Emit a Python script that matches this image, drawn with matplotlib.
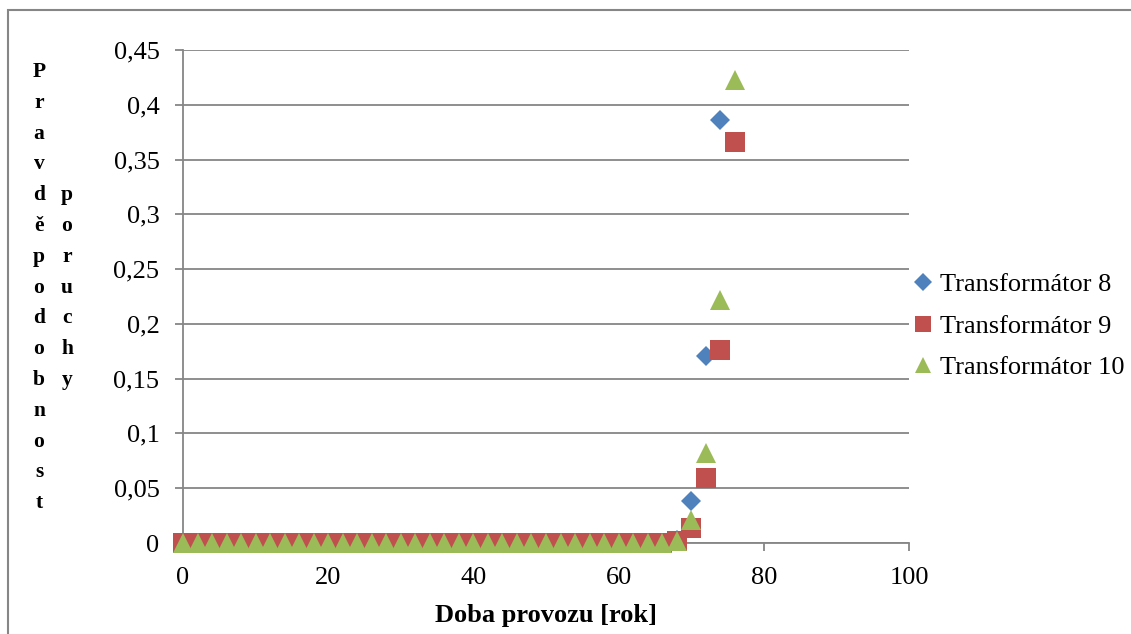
import matplotlib
matplotlib.use("Agg")
import matplotlib.pyplot as plt
from matplotlib.patches import Rectangle

plt.rcParams['font.family'] = ['Liberation Serif', 'DejaVu Serif']

years_8 = [0, 2, 4, 6, 8, 10, 12, 14, 16, 18, 20, 22, 24, 26, 28, 30, 32, 34, 36,
           38, 40, 42, 44, 46, 48, 50, 52, 54, 56, 58, 60, 62, 64, 66, 68, 70, 72, 74]
t8 = [0, 0, 0, 0, 0, 0, 0, 0, 0, 0, 0, 0, 0, 0, 0, 0, 0, 0, 0,
      0, 0, 0, 0, 0, 0, 0, 0, 0, 0, 0, 0, 0, 0, 0, 0.003, 0.038, 0.171, 0.386]

years_9 = [0, 2, 4, 6, 8, 10, 12, 14, 16, 18, 20, 22, 24, 26, 28, 30, 32, 34, 36,
           38, 40, 42, 44, 46, 48, 50, 52, 54, 56, 58, 60, 62, 64, 66, 68, 70, 72, 74, 76]
t9 = [0, 0, 0, 0, 0, 0, 0, 0, 0, 0, 0, 0, 0, 0, 0, 0, 0, 0, 0,
      0, 0, 0, 0, 0, 0, 0, 0, 0, 0, 0, 0, 0, 0, 0, 0.002, 0.014, 0.059, 0.176, 0.366]

years_10 = [0, 2, 4, 6, 8, 10, 12, 14, 16, 18, 20, 22, 24, 26, 28, 30, 32, 34, 36,
            38, 40, 42, 44, 46, 48, 50, 52, 54, 56, 58, 60, 62, 64, 66, 68, 70, 72, 74, 76]
t10 = [0, 0, 0, 0, 0, 0, 0, 0, 0, 0, 0, 0, 0, 0, 0, 0, 0, 0, 0,
       0, 0, 0, 0, 0, 0, 0, 0, 0, 0, 0, 0, 0, 0, 0, 0.002, 0.021, 0.082, 0.222, 0.423]

labels = ["Transformátor 8", "Transformátor 9", "Transformátor 10"]
colors = ["#4F81BD", "#C0504D", "#9BBB59"]

x_ticks = [0, 20, 40, 60, 80, 100]
y_ticks = [0, 0.05, 0.1, 0.15, 0.2, 0.25, 0.3, 0.35, 0.4, 0.45]
y_ticklabels = ["0", "0,05", "0,1", "0,15", "0,2", "0,25", "0,3", "0,35", "0,4", "0,45"]

W, H = 1131, 634
fig = plt.figure(figsize=(W / 100, H / 100), dpi=100)
ax = fig.add_axes([183 / W, 1 - 543 / H, (909 - 183) / W, (543 - 50) / H])

grid_c = "#868686"
ax.plot(years_8, t8, linestyle='none', marker='D', markersize=10.5,
        color=colors[0], markeredgewidth=0, label=labels[0], zorder=3, clip_on=False)
ax.plot(years_9, t9, linestyle='none', marker='s', markersize=14.2,
        color=colors[1], markeredgewidth=0, label=labels[1], zorder=4, clip_on=False)
ax.plot(years_10, t10, linestyle='none', marker='^', markersize=14.2,
        color=colors[2], markeredgewidth=0, label=labels[2], zorder=5, clip_on=False)

ax.set_xlim(0, 100)
ax.set_ylim(0, 0.45)
ax.set_xticks(x_ticks)
ax.set_xticklabels([str(v) for v in x_ticks], fontsize=19)
ax.set_yticks(y_ticks)
ax.set_yticklabels(y_ticklabels, fontsize=19)
ax.yaxis.grid(True, color=grid_c, linewidth=1.3)
ax.set_axisbelow(True)
for s in ['top', 'right']:
    ax.spines[s].set_visible(False)
for s in ['left', 'bottom']:
    ax.spines[s].set_color(grid_c)
    ax.spines[s].set_linewidth(1.3)
ax.tick_params(axis='both', direction='out', length=6, width=1.3, color=grid_c)
ax.tick_params(axis='y', pad=11)
ax.tick_params(axis='x', pad=11)

ax.set_xlabel("Doba provozu [rok]", fontsize=19, fontweight='bold', labelpad=11)

# vertical stacked y label
col1 = "Pravděpodobnost"
col2 = "poruchy"
y0 = 72
dy = 30.8
for i, ch in enumerate(col1):
    fig.text(39 / W, 1 - (y0 + i * dy) / H, ch, ha='center', va='center',
             fontsize=15.5, fontweight='bold')
for i, ch in enumerate(col2):
    fig.text(67 / W, 1 - (y0 + (i + 4) * dy) / H, ch, ha='center', va='center',
             fontsize=15.5, fontweight='bold')

leg = fig.legend(loc='upper left', bbox_to_anchor=(907 / W, 1 - 273 / H),
                 frameon=False, fontsize=19, handletextpad=0.05, labelspacing=0.68,
                 markerscale=0.85, handlelength=1.2, borderaxespad=0, borderpad=0)

fig.patches.append(Rectangle((8 / W, -0.1), 1.2, 1 - 10 / H + 0.1, transform=fig.transFigure,
                             fill=False, edgecolor=grid_c, linewidth=1.5))

fig.savefig("out.png", dpi=100)
